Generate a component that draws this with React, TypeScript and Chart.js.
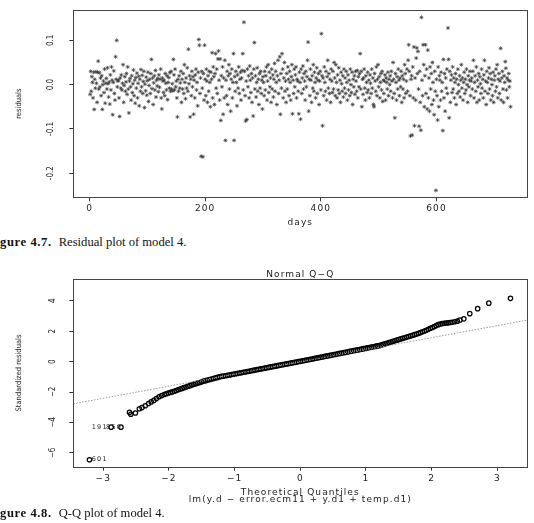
import React, { useEffect, useRef } from "react";
import { Chart, registerables } from "chart.js";

Chart.register(...registerables);

// ---------------- Figure 4.7 : residuals vs days ----------------
// residual of day 1..728, in thousandths
const residualsX1000: number[] = [
  -22, 30, -15, 18, 5, -30, 28, -56, 12, -8, 29, 3, -40, 28, 53, -10, 27, -5, 15, -25,
  20, -56, 0, 8, -18, 35, -42, 3, 14, -10, 38, 2, -28, 6, -44, 22, -12, 40, 10, -68,
  5, 31, -20, -35, 63, 12, 100, -5, 8, 10, -30, -72, 15, -8, 22, -12, 3, 45, -40, -2,
  18, -15, 6, 25, -22, 40, -10, -64, 8, 14, -5, -35, 20, -18, 2, 33, -25, 10, -42, 16,
  -8, 26, -30, 3, 19, -48, 12, -15, 34, -5, 21, -20, 7, 30, -52, 1, -14, 17, -24, 9,
  28, -38, -2, 12, -20, 25, 57, -9, 15, -45, 4, 20, -12, 32, -28, 10, -3, 14, -16, 22,
  -6, 12, 35, -30, -55, 15, 8, -18, 10, -25, 25, 3, -12, 20, -34, 5, 16, -8, 27, -15,
  30, -10, 2, -14, 57, 22, -12, 35, -5, 8, -30, -73, 12, -15, 20, -8, 4, 30, -40, 12,
  -10, 25, -20, 45, 5, -32, 15, -8, 38, -15, 80, 2, 20, -73, 12, -25, 30, -5, 18, -67,
  10, -30, 22, 35, -12, 5, -48, 28, 102, 89, -20, 15, -162, 30, -8, -163, 25, -35, 89, 12,
  -25, 35, 8, -40, 20, -15, 30, 5, -50, 28, 12, 72, -30, 40, 18, -45, 25, 70, -8, 35,
  -20, 58, 76, 10, -35, 58, -81, 20, -5, 40, -67, 15, -30, 55, -126, 10, -25, 30, -45, 20,
  45, -10, 25, -60, 12, 35, -30, 5, 70, -126, 18, -15, 30, 5, -48, 22, -8, 40, -20, 12,
  28, -35, 15, 32, 70, -12, 141, 30, -25, -82, 8, -79, 35, -5, 20, -30, 42, 10, -18, 25,
  -40, 15, -71, 35, 95, -10, 20, -28, 5, 38, -15, 12, -45, 25, -8, 30, -20, 10, -55, 18,
  5, -25, 30, -12, 20, 40, -35, 8, 45, -18, 28, -5, 15, -40, 35, -10, 22, -28, 12, 48,
  -15, 30, 5, -45, 20, 55, -20, 10, 63, -67, 25, -8, 70, 35, -30, 15, 50, -15, 8, -40,
  25, -10, 40, 12, -25, 30, 5, -35, 18, 45, -66, 10, -20, 35, -5, 22, 40, -30, 12, 8,
  -15, -66, 28, 5, -78, 35, -20, 15, 42, -10, 25, 8, -35, 30, -5, 18, 55, 96, -60, 12,
  -25, 35, 10, -40, 20, -8, 45, -15, 28, 5, -30, 15, 38, -20, 10, 25, -45, 8, 30, -12,
  115, 20, -93, 15, -25, 40, 5, -15, 30, -35, 18, 55, -8, 25, -20, 12, -40, 35, 8, -18,
  30, -10, 50, 15, -25, 45, 5, -30, 22, -12, 38, -20, 10, -40, 28, 2, -15, 20, -28, 35,
  -8, 15, -20, 30, 5, -35, 22, -12, 10, -25, 35, 0, -18, 28, -45, 12, -5, 20, -22, 30,
  8, -15, 32, -30, 18, -5, 25, 70, -10, 30, -50, 12, -22, 15, 35, -8, -35, 20, 5, -18,
  28, -12, 10, -30, 22, 3, -20, 35, -8, 15, -45, -50, 25, 8, -15, 40, -25, 12, 45, -5,
  18, -30, 5, 25, -12, 30, -38, 10, -20, 8, 22, -35, 15, 5, -10, 28, -25, 12, 0, 20,
  -15, 30, 8, -30, 50, 12, -20, -75, 25, 5, -35, 18, -10, 35, 10, -25, 15, -5, 30, -40,
  20, -10, 12, -30, 45, 25, -20, 8, 35, -15, 55, 90, 30, -25, -116, 12, 20, -114, 40, -30,
  85, -93, 15, -35, 60, 83, 25, 75, -10, -94, 30, -40, -103, 152, 10, -25, 90, 45, -50, 20,
  90, -20, 35, -55, 78, -30, 15, -60, 40, -10, 25, -45, 50, 5, -35, -68, 30, -15, -239, 12,
  -25, -80, 40, -50, 20, 10, -35, 28, -15, 5, -104, 57, -30, 25, -60, 15, -8, 35, -20, 128,
  57, -75, 30, -40, 10, 22, -18, 40, -10, 15, -30, 5, 25, -45, 12, -20, 35, 0, -15, 20,
  -28, 10, 45, -8, 15, -35, 5, 28, -20, 12, -12, 35, 0, -40, 20, -5, 10, 30, -25, 8,
  15, -10, 30, 55, -30, 5, 20, -15, 40, -40, 10, -5, 25, -35, 18, 2, -20, 35, -8, 12,
  -30, 22, 55, -15, 8, -45, 30, 5, -20, 15, 38, -10, 25, -35, 12, 0, -25, 28, -40, 10,
  20, -15, 35, -5, 45, -30, 12, 25, -20, 8, 82, -35, 15, 30, -10, -40, 20, 5, 52, 37,
  -12, 15, -30, 10, 25, -5, 8, -50,
];
const dayMin = -28.1;
const dayMax = 757.1;
const dayTicks = [0, 200, 400, 600];
const dayTickLabels = ["0", "200", "400", "600"];
const residMin = -0.2546;
const residMax = 0.1686;
const residTicks = [-0.2, -0.1, 0, 0.1];
const residTickLabels = ["-0.2", "-0.1", "0.0", "0.1"];

// ---------------- Figure 4.8 : normal Q-Q ----------------
const qqTheoretical: number[] = [
  -3.21, -2.88, -2.73, -2.6, -2.58, -2.51, -2.45, -2.41, -2.36, -2.31, -2.27, -2.23, -2.19, -2.15, -2.11, -2.07, -2.04, -2.01, -1.98,
  -1.95, -1.92, -1.89, -1.86, -1.83, -1.8, -1.77, -1.74, -1.71, -1.68, -1.65, -1.62, -1.59, -1.56, -1.53, -1.5, -1.47, -1.44, -1.41, -1.38, -1.35, -1.32, -1.29, -1.26, -1.23, -1.2,
  -1.17, -1.14, -1.11, -1.08, -1.05, -1.02, -0.99, -0.96, -0.93, -0.9, -0.87, -0.84, -0.81, -0.78, -0.75, -0.72, -0.69, -0.66, -0.63, -0.6,
  -0.57, -0.54, -0.51, -0.48, -0.45, -0.42, -0.39, -0.36, -0.33, -0.3, -0.27, -0.24, -0.21, -0.18, -0.15, -0.12, -0.09, -0.06, -0.03, 0,
  0.03, 0.06, 0.09, 0.12, 0.15, 0.18, 0.21, 0.24, 0.27, 0.3, 0.33, 0.36, 0.39, 0.42, 0.45, 0.48, 0.51, 0.54, 0.57, 0.6,
  0.63, 0.66, 0.69, 0.72, 0.75, 0.78, 0.81, 0.84, 0.87, 0.9, 0.93, 0.96, 0.99, 1.02, 1.05, 1.08, 1.11, 1.14, 1.17, 1.2,
  1.23, 1.26, 1.29, 1.32, 1.35, 1.38, 1.41, 1.44, 1.47, 1.5, 1.53, 1.56, 1.59, 1.62, 1.65, 1.68, 1.71, 1.74, 1.77, 1.8,
  1.83, 1.86, 1.89, 1.92, 1.95, 1.98, 2.01, 2.04, 2.07, 2.1, 2.13, 2.16, 2.19, 2.22, 2.25, 2.28, 2.31, 2.35, 2.39, 2.43,
  2.49, 2.58, 2.7, 2.87, 3.2,
];
const qqStandardized: number[] = [
  -6.45, -4.31, -4.31, -3.34, -3.46, -3.38, -3.1, -3.02, -2.9, -2.75, -2.65, -2.55, -2.43, -2.31, -2.23, -2.16, -2.11, -2.06, -2.03,
  -1.99, -1.95, -1.9, -1.85, -1.8, -1.76, -1.71, -1.67, -1.62, -1.58, -1.53, -1.49, -1.45, -1.41, -1.37, -1.33, -1.28, -1.25, -1.21, -1.18, -1.14, -1.11, -1.07, -1.04, -1.0, -0.97,
  -0.95, -0.93, -0.9, -0.88, -0.85, -0.83, -0.8, -0.78, -0.75, -0.73, -0.7, -0.68, -0.65, -0.63, -0.6, -0.58, -0.55, -0.53, -0.5, -0.48,
  -0.45, -0.43, -0.4, -0.38, -0.35, -0.33, -0.3, -0.28, -0.25, -0.23, -0.2, -0.18, -0.15, -0.13, -0.1, -0.08, -0.05, -0.03, 0.0, 0.02,
  0.05, 0.07, 0.1, 0.12, 0.15, 0.17, 0.2, 0.23, 0.25, 0.28, 0.3, 0.33, 0.36, 0.38, 0.41, 0.43, 0.46, 0.48, 0.51, 0.54,
  0.56, 0.59, 0.61, 0.64, 0.67, 0.69, 0.72, 0.74, 0.77, 0.79, 0.82, 0.85, 0.87, 0.9, 0.92, 0.95, 0.98, 1.0, 1.03, 1.05,
  1.09, 1.13, 1.17, 1.21, 1.25, 1.29, 1.33, 1.37, 1.41, 1.45, 1.49, 1.53, 1.57, 1.61, 1.65, 1.69, 1.73, 1.77, 1.81, 1.86,
  1.91, 1.96, 2.01, 2.06, 2.13, 2.19, 2.24, 2.3, 2.37, 2.43, 2.47, 2.5, 2.52, 2.54, 2.55, 2.57, 2.59, 2.62, 2.66, 2.73,
  2.81, 3.15, 3.48, 3.84, 4.16,
];
const qqLineIntercept = -0.02;
const qqLineSlope = 0.796;
const qqIdLabels = ["601", "191", "850"];
const qqIdX = [-3.175, -3.175, -2.957];
const qqIdY = [-6.45, -4.31, -4.31];
const qMin = -3.456;
const qMax = 3.456;
const qTicks = [-3, -2, -1, 0, 1, 2, 3];
const qTickLabels = ["\u22123", "\u22122", "\u22121", "0", "1", "2", "3"];
const srMin = -6.906;
const srMax = 5.41;
const srTicks = [-6, -4, -2, 0, 2, 4];
const srTickLabels = ["\u22126", "\u22124", "\u22122", "0", "2", "4"];

// ---------------- styling ----------------
const TXT = "#222";
const WIDE = '"DejaVu Sans", "Liberation Sans", sans-serif';
const NARROW = '"Liberation Sans Narrow", "DejaVu Sans Condensed", "Liberation Sans", sans-serif';

function rStyle(withIds: boolean) {
  return {
    id: "rStyle" + (withIds ? "B" : "A"),
    beforeDraw(chart: any) {
      chart.ctx.letterSpacing = "1.1px";
    },
    afterDatasetsDraw(chart: any) {
      const ctx = chart.ctx;
      const a = chart.chartArea;
      ctx.save();
      ctx.letterSpacing = "0px";
      ctx.strokeStyle = "#444";
      ctx.lineWidth = 1;
      const l = Math.round(a.left), t = Math.round(a.top);
      const r = Math.round(a.right), b = Math.round(a.bottom);
      ctx.strokeRect(l + 0.5, t + 0.5, r - l, b - t);
      if (withIds) {
        ctx.letterSpacing = "1.2px";
        ctx.fillStyle = TXT;
        ctx.font = "6.5px " + WIDE;
        ctx.textAlign = "left";
        ctx.textBaseline = "middle";
        const xs = chart.scales.x, ys = chart.scales.y;
        qqIdLabels.forEach((lab, i) => {
          ctx.fillText(lab, xs.getPixelForValue(qqIdX[i]), ys.getPixelForValue(qqIdY[i]));
        });
      }
      ctx.restore();
      ctx.letterSpacing = "0px";
    },
  };
}

function xAxis(min: number, max: number, ticks: number[], labels: string[], title: any, height: number) {
  return {
    type: "linear",
    min,
    max,
    afterBuildTicks: (s: any) => {
      s.ticks = ticks.map((v) => ({ value: v }));
    },
    afterFit: (s: any) => {
      s.height = height;
      s.paddingLeft = 0;
      s.paddingRight = 0;
    },
    ticks: {
      autoSkip: false,
      maxRotation: 0,
      minRotation: 0,
      padding: 2.2,
      color: TXT,
      font: { family: WIDE, size: 9, lineHeight: 1.2 },
      callback: (_v: any, i: number) => labels[i],
    },
    grid: { drawOnChartArea: false, drawTicks: true, tickLength: 4, color: "#333", lineWidth: 1 },
    border: { display: false },
    title,
  };
}

function yAxis(min: number, max: number, ticks: number[], labels: string[], titleText: string) {
  return {
    type: "linear",
    min,
    max,
    afterBuildTicks: (s: any) => {
      s.ticks = ticks.map((v) => ({ value: v }));
    },
    afterFit: (s: any) => {
      s.width = 73.3;
      s.paddingTop = 0;
      s.paddingBottom = 0;
    },
    ticks: {
      autoSkip: false,
      minRotation: 90,
      maxRotation: 90,
      crossAlign: "center",
      padding: 11.5,
      color: TXT,
      z: 1,
      font: { family: NARROW, size: 8 },
      callback: (_v: any, i: number) => labels[i],
    },
    grid: { drawOnChartArea: false, drawTicks: true, tickLength: 4, color: "#333", lineWidth: 1, z: 1 },
    border: { display: false },
    title: {
      display: true,
      text: titleText,
      color: TXT,
      font: { family: NARROW, size: 7.5, lineHeight: 1.2 },
      padding: { top: 14.6, bottom: 0 },
    },
  };
}

function topConfig(): any {
  const pts = residualsX1000.map((v, i) => ({ x: i + 1, y: v / 1000 }));
  return {
    type: "scatter",
    data: {
      datasets: [
        {
          data: pts,
          pointStyle: "star",
          pointRadius: 2.0,
          borderWidth: 0.7,
          borderColor: "#3a3a3a",
          backgroundColor: "#3a3a3a",
        },
      ],
    },
    options: {
      animation: false,
      responsive: false,
      devicePixelRatio: 1,
      events: [],
      layout: { padding: { left: 0, right: 6.7, top: 10, bottom: 0 } },
      plugins: { legend: { display: false }, tooltip: { enabled: false }, title: { display: false } },
      scales: {
        x: xAxis(dayMin, dayMax, dayTicks, dayTickLabels, {
          display: true,
          text: "days",
          color: TXT,
          font: { family: WIDE, size: 9, lineHeight: 1.2 },
          padding: { top: 0, bottom: 3.9 },
        }, 34.7),
        y: yAxis(residMin, residMax, residTicks, residTickLabels, "residuals"),
      },
    },
    plugins: [rStyle(false)],
  };
}

function bottomConfig(): any {
  const pts = qqTheoretical.map((x, i) => ({ x, y: qqStandardized[i] }));
  const line = [qMin, qMax].map((x) => ({ x, y: qqLineIntercept + qqLineSlope * x }));
  return {
    type: "scatter",
    data: {
      datasets: [
        {
          data: line,
          showLine: true,
          borderColor: "#9a9a9a",
          borderWidth: 1,
          borderDash: [1.5, 1.5],
          pointRadius: 0,
        },
        {
          data: pts,
          pointStyle: "circle",
          pointRadius: 2.2,
          borderWidth: 1.25,
          borderColor: "#000",
          backgroundColor: "rgba(0,0,0,0)",
        },
      ],
    },
    options: {
      animation: false,
      responsive: false,
      devicePixelRatio: 1,
      events: [],
      layout: { padding: { left: 0, right: 6.7, top: 0, bottom: 0 } },
      plugins: {
        legend: { display: false },
        tooltip: { enabled: false },
        title: {
          display: true,
          text: "Normal Q\u2212Q",
          fullSize: false,
          color: TXT,
          font: { family: WIDE, size: 9, lineHeight: 1, weight: "normal" },
          padding: { top: 7.8, bottom: 0.5 },
        },
      },
      scales: {
        x: xAxis(qMin, qMax, qTicks, qTickLabels, {
          display: true,
          text: ["Theoretical Quantiles", "lm(y.d \u2212 error.ecm11 + y.d1 + temp.d1)"],
          color: TXT,
          font: { family: WIDE, size: 9, lineHeight: 0.75 },
          padding: { top: 0, bottom: 2.9 },
        }, 39.3),
        y: yAxis(srMin, srMax, srTicks, srTickLabels, "Standardized residuals"),
      },
    },
    plugins: [rStyle(true)],
  };
}

const captionBase: React.CSSProperties = {
  position: "absolute",
  left: 0,
  whiteSpace: "nowrap",
  fontFamily: '"Liberation Serif", "DejaVu Serif", serif',
  fontSize: "12.6px",
  lineHeight: "16px",
  color: "#111",
};

export default function App() {
  const topRef = useRef<HTMLCanvasElement>(null);
  const botRef = useRef<HTMLCanvasElement>(null);

  useEffect(() => {
    const c1 = new Chart(topRef.current as HTMLCanvasElement, topConfig());
    const c2 = new Chart(botRef.current as HTMLCanvasElement, bottomConfig());
    return () => {
      c1.destroy();
      c2.destroy();
    };
  }, []);

  return (
    <div style={{ position: "absolute", left: 0, top: 0, width: 534, height: 523, background: "#fff", overflow: "hidden" }}>
      <canvas ref={topRef} width={534} height={232} style={{ position: "absolute", left: 0, top: 0, width: 534, height: 232 }} />
      <div style={{ ...captionBase, top: 233.6 }}>
        <span style={{ fontWeight: "bold", letterSpacing: "0.6px" }}>gure 4.7.</span>
        <span style={{ marginLeft: 7 }}>Residual plot of model 4.</span>
      </div>
      <canvas ref={botRef} width={534} height={244} style={{ position: "absolute", left: 0, top: 262, width: 534, height: 244 }} />
      <div style={{ ...captionBase, top: 504.5 }}>
        <span style={{ fontWeight: "bold", letterSpacing: "0.6px" }}>gure 4.8.</span>
        <span style={{ marginLeft: 7 }}>Q-Q plot of model 4.</span>
      </div>
    </div>
  );
}
